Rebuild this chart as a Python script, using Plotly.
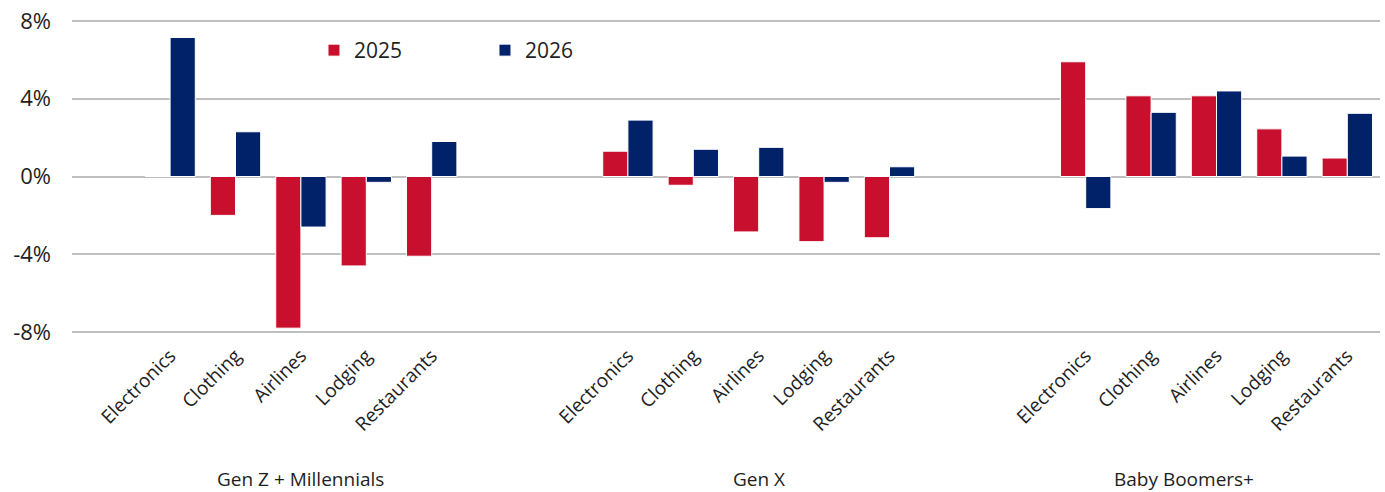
import plotly.graph_objects as go

groups = ["Gen Z + Millennials", "Gen X", "Baby Boomers+"]
categories = ["Electronics", "Clothing", "Airlines", "Lodging", "Restaurants"]
series_names = ["2025", "2026"]
values_2025 = [
    [0.0, -2.0, -7.8, -4.6, -4.1],
    [1.3, -0.45, -2.85, -3.35, -3.15],
    [5.9, 4.15, 4.15, 2.45, 0.95],
]
values_2026 = [
    [7.15, 2.3, -2.6, -0.3, 1.8],
    [2.9, 1.4, 1.5, -0.3, 0.5],
    [-1.65, 3.3, 4.4, 1.05, 3.25],
]
y_ticks = [-8, -4, 0, 4, 8]
y_tick_labels = ["-8%", "-4%", "0%", "4%", "8%"]

colors = ["#C8102E", "#012169"]
FONT = "Open Sans"
TXT = "#1e1e1e"

# slot layout: one empty leading slot, two empty slots between groups
xs, xlabels = [], []
for gi, g in enumerate(groups):
    for ci, c in enumerate(categories):
        xs.append(1 + gi * 7 + ci)
        xlabels.append(c)

fig = go.Figure()
for name, vals, col in zip(series_names, [values_2025, values_2026], colors):
    flat = [v for grp in vals for v in grp]
    fig.add_trace(go.Bar(
        x=xs, y=flat, name=name,
        marker=dict(color=col, line=dict(color="white", width=1)),
    ))

# group label positions (group-span centers as in the original)
label_x = [3, 10, 16.5]
for g, lx in zip(groups, label_x):
    fig.add_annotation(x=lx, xref="x", y=0, yref="paper", yshift=-145,
                       text=g, showarrow=False,
                       font=dict(family=FONT, size=19, color=TXT),
                       yanchor="middle", xanchor="center")

fig.update_layout(
    width=1385, height=492,
    margin=dict(l=72, r=5, t=19, b=158),
    paper_bgcolor="white", plot_bgcolor="white",
    barmode="group", bargap=0.23, bargroupgap=0.0,
    font=dict(family=FONT, color=TXT),
    showlegend=True,
    legend=dict(orientation="h", x=0.185, y=0.90, xanchor="left", yanchor="middle",
                font=dict(family=FONT, size=21, color=TXT),
                entrywidth=126, entrywidthmode="pixels",
                itemwidth=30, bgcolor="rgba(0,0,0,0)", traceorder="normal"),
    xaxis=dict(
        range=[-0.5, 19.5], tickmode="array", tickvals=xs, ticktext=xlabels,
        tickangle=-45, showgrid=False, zeroline=False, showline=False,
        ticks="", tickfont=dict(family=FONT, size=19, color=TXT),
        ticklabelstandoff=6,
    ),
    yaxis=dict(
        range=[-8.1, 8.1], tickmode="array", tickvals=y_ticks, ticktext=y_tick_labels,
        showgrid=True, gridcolor="#BFBFBF", gridwidth=2,
        zeroline=True, zerolinecolor="#BFBFBF", zerolinewidth=2,
        showline=False, ticks="", tickfont=dict(family=FONT, size=22, color=TXT),
        ticklabelstandoff=20,
    ),
)

fig.write_html("out.html")
